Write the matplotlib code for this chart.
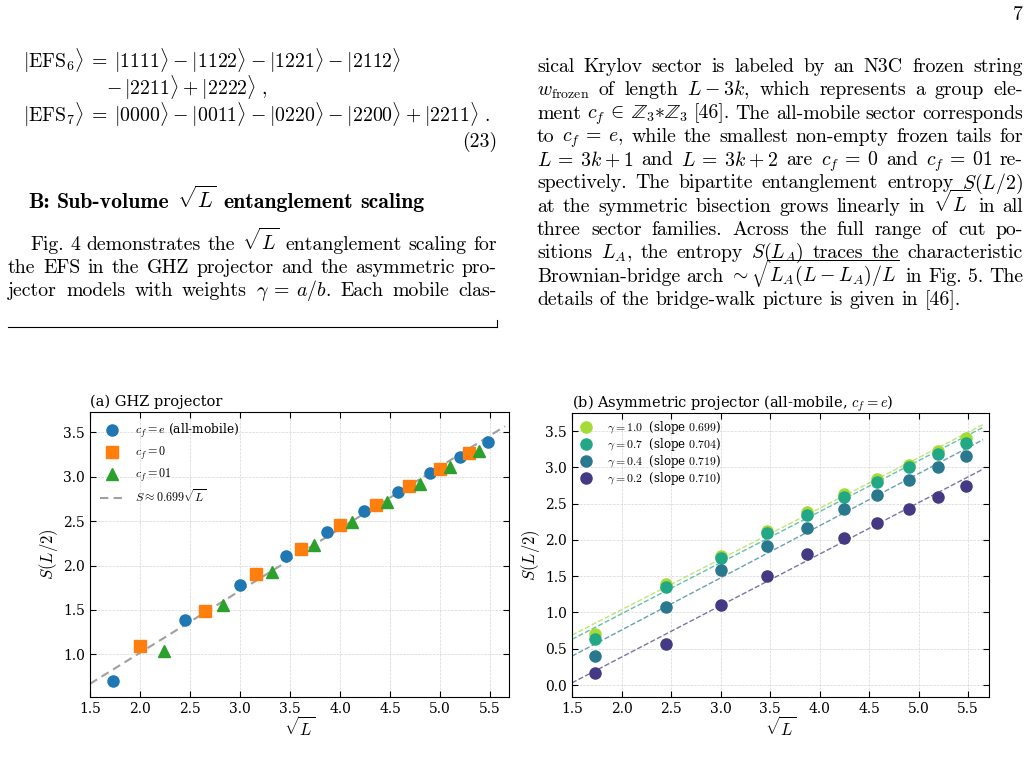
import numpy as np
import matplotlib
matplotlib.use('Agg')
import matplotlib.pyplot as plt
from matplotlib.lines import Line2D

plt.rcParams['font.family'] = 'DejaVu Serif'
plt.rcParams['mathtext.fontset'] = 'cm'

W, H = 1030, 773
fig = plt.figure(figsize=(W / 100, H / 100), dpi=100)
renderer = fig.canvas.get_renderer()

# ---------------- data (a) GHZ projector ----------------
x_e = [1.732, 2.449, 3.0, 3.464, 3.873, 4.243, 4.583, 4.899, 5.196, 5.477]
S_e = [0.695, 1.384, 1.78, 2.11, 2.38, 2.62, 2.83, 3.04, 3.22, 3.39]
x_0 = [2.0, 2.646, 3.162, 3.606, 4.0, 4.359, 4.690, 5.0, 5.292]
S_0 = [1.10, 1.485, 1.906, 2.19, 2.46, 2.68, 2.90, 3.09, 3.27]
x_01 = [2.236, 2.828, 3.317, 3.742, 4.123, 4.472, 4.796, 5.099, 5.385]
S_01 = [1.04, 1.56, 1.93, 2.23, 2.49, 2.72, 2.92, 3.11, 3.29]
fit_a_slope = 0.699
fit_a_icpt = -0.38

# ---------------- data (b) asymmetric projector ----------------
x_b = [1.732, 2.449, 3.0, 3.464, 3.873, 4.243, 4.583, 4.899, 5.196, 5.477]
gammas = ['1.0', '0.7', '0.4', '0.2']
S_b = [
    [0.70, 1.39, 1.78, 2.12, 2.39, 2.63, 2.84, 3.04, 3.22, 3.40],
    [0.63, 1.35, 1.75, 2.09, 2.35, 2.59, 2.80, 3.00, 3.18, 3.34],
    [0.40, 1.07, 1.58, 1.91, 2.17, 2.42, 2.62, 2.82, 3.00, 3.16],
    [0.17, 0.565, 1.10, 1.50, 1.80, 2.03, 2.24, 2.42, 2.59, 2.75],
]
slopes_b = [0.699, 0.704, 0.719, 0.710]
icpts_b = [-0.36, -0.426, -0.68, -1.035]
cols_b = ['#a5db36', '#22a884', '#2a788e', '#443983']
x_fit = [1.5, 5.65]


def fx(px):
    return px / W


def fy(py):
    return 1 - py / H


def mspace(s):
    # TeX-like spacing around relations / binary operators inside $...$
    parts = s.split('$')
    for i in range(1, len(parts), 2):
        p = parts[i]
        p = p.replace('=', r'\:=\:').replace(r'\in', r'\:\in\:')
        p = p.replace('+', r'\:+\:').replace('-', r'\:-\:')
        parts[i] = p
    return '$'.join(parts)


def split_tokens(s):
    out, cur, inmath = [], '', False
    for ch in s:
        if ch == '$':
            inmath = not inmath
        if ch == ' ' and not inmath:
            if cur:
                out.append(cur)
            cur = ''
        else:
            cur += ch
    if cur:
        out.append(cur)
    return out


FS = 14.25


def put_line(s, x0, x1, y, justify=True, fs=FS, family='cmr10'):
    toks = split_tokens(mspace(s))
    objs = [fig.text(fx(x0), fy(y), t, va='baseline', ha='left',
                     fontsize=fs, family=family) for t in toks]
    widths = [o.get_window_extent(renderer).width for o in objs]
    if justify and len(objs) > 1:
        gap = (x1 - x0 - sum(widths)) / (len(objs) - 1)
    else:
        gap = fs * 1.389 * 0.333
    x = x0
    for o, w in zip(objs, widths):
        o.set_x(fx(x))
        x += w + gap


# ---------------- page text ----------------
fig.text(fx(1023), fy(20), '7', ha='right', va='baseline', fontsize=FS, family='cmr10')

eq1 = r'$|\mathrm{EFS}_6\rangle=|1111\rangle-|1122\rangle-|1221\rangle-|2112\rangle$'
eq2 = r'$-\,|2211\rangle+|2222\rangle\ ,$'
eq3 = r'$|\mathrm{EFS}_7\rangle=|0000\rangle-|0011\rangle-|0220\rangle-|2200\rangle+|2211\rangle\ .$'
fig.text(fx(23), fy(68), mspace(eq1), fontsize=FS, va='baseline')
fig.text(fx(106), fy(95), eq2.replace(r'+', r'\:+\:'), fontsize=FS, va='baseline')
fig.text(fx(23), fy(122), mspace(eq3), fontsize=FS, va='baseline')
fig.text(fx(497), fy(147), '(23)', ha='right', va='baseline', fontsize=FS, family='cmr10')

put_line(r'B: Sub-volume $\sqrt{L}$ entanglement scaling', 28, 430, 208, justify=False,
         fs=15.7, family='cmb10')

left_par = [
    r'Fig. 4 demonstrates the $\sqrt{L}$ entanglement scaling for',
    r'the EFS in the GHZ projector and the asymmetric pro-',
    r'jector models with weights $\gamma=a/b$. Each mobile clas-',
]
put_line(left_par[0], 30, 497, 250)
put_line(left_par[1], 8, 497, 273)
put_line(left_par[2], 8, 497, 296)

fig.add_artist(Line2D([fx(8), fx(497)], [fy(327), fy(327)], color='black', lw=0.8))
fig.add_artist(Line2D([fx(497), fx(497)], [fy(327), fy(320)], color='black', lw=0.8))

right_par = [
    r'sical Krylov sector is labeled by an N3C frozen string',
    r'$w_{\mathrm{frozen}}$ of length $L-3k$, which represents a group ele-',
    r'ment $c_f\in\mathbb{Z}_3{\ast}\mathbb{Z}_3$ [46]. The all-mobile sector corresponds',
    r'to $c_f=e$, while the smallest non-empty frozen tails for',
    r'$L=3k+1$ and $L=3k+2$ are $c_f=0$ and $c_f=01$ re-',
    r'spectively. The bipartite entanglement entropy $S(L/2)$',
    r'at the symmetric bisection grows linearly in $\sqrt{L}$ in all',
    r'three sector families. Across the full range of cut po-',
    r'sitions $L_A$, the entropy $S(L_A)$ traces the characteristic',
    r'Brownian-bridge arch $\sim\sqrt{L_A(L-L_A)/L}$ in Fig. 5. The',
    r'details of the bridge-walk picture is given in [46].',
]
for i, line in enumerate(right_par):
    put_line(line, 537, 1023, 72 + 23.3 * i, justify=(i < len(right_par) - 1))


# ---------------- axes ----------------
def style(ax):
    ax.tick_params(direction='in', top=True, right=True, labelsize=10, length=4, width=0.8)
    ax.grid(True, ls='--', lw=0.5, color='#cccccc', alpha=0.8)
    ax.set_axisbelow(True)
    ax.set_xlabel(r'$\sqrt{L}$', fontsize=12, labelpad=1)
    ax.set_ylabel(r'$S(L/2)$', fontsize=12, labelpad=2)
    ax.set_xticks(np.arange(1.5, 5.51, 0.5))


axa = fig.add_axes([fx(90), fy(697), (509 - 90) / W, (697 - 412) / H])
xl = np.array(x_fit)
axa.plot(xl, fit_a_slope * xl + fit_a_icpt, ls='--', color='#a0a0a0', lw=1.5, dashes=(4, 2.5),
         label=r'$S\approx %.3f\sqrt{L}$' % fit_a_slope, zorder=2)
axa.plot(x_e, S_e, 'o', color='#1f77b4', ms=8, label=r'$c_f=e$ (all-mobile)', zorder=3)
axa.plot(x_0, S_0, 's', color='#ff7f0e', ms=8, label=r'$c_f=0$', zorder=3)
axa.plot(x_01, S_01, '^', color='#2ca02c', ms=8, label=r'$c_f=01$', zorder=3)
axa.set_xlim(1.5, 5.69)
axa.set_ylim(0.52, 3.73)
axa.set_yticks(np.arange(1.0, 3.51, 0.5))
style(axa)
axa.set_title('(a) GHZ projector', loc='left', fontsize=10.5, pad=4)
h, l = axa.get_legend_handles_labels()
axa.legend(h[1:] + h[:1], l[1:] + l[:1], loc='upper left', frameon=False, fontsize=8.7,
           labelspacing=0.35, handlelength=2.1, handletextpad=0.85, borderaxespad=0.4)

axb = fig.add_axes([fx(572), fy(697), (989 - 572) / W, (697 - 413) / H])
for g, S, m, c, col in zip(gammas, S_b, slopes_b, icpts_b, cols_b):
    axb.plot(x_b, S, 'o', color=col, ms=8, zorder=3,
             label=r'$\gamma=%s$  (slope $%.3f$)' % (g, m))
    axb.plot(xl, m * xl + c, ls='--', color=col, lw=1.0, alpha=0.7, zorder=2)
axb.set_xlim(1.5, 5.71)
axb.set_ylim(-0.165, 3.75)
axb.set_yticks(np.arange(0.0, 3.51, 0.5))
style(axb)
axb.set_title(r'(b) Asymmetric projector (all-mobile, $c_f=e$)', loc='left', fontsize=10.5, pad=4)
axb.legend(loc='upper left', frameon=False, fontsize=8.5, labelspacing=0.0,
           handlelength=1.2, handletextpad=1.2, borderaxespad=0.15)

fig.savefig('out.png', dpi=100)
